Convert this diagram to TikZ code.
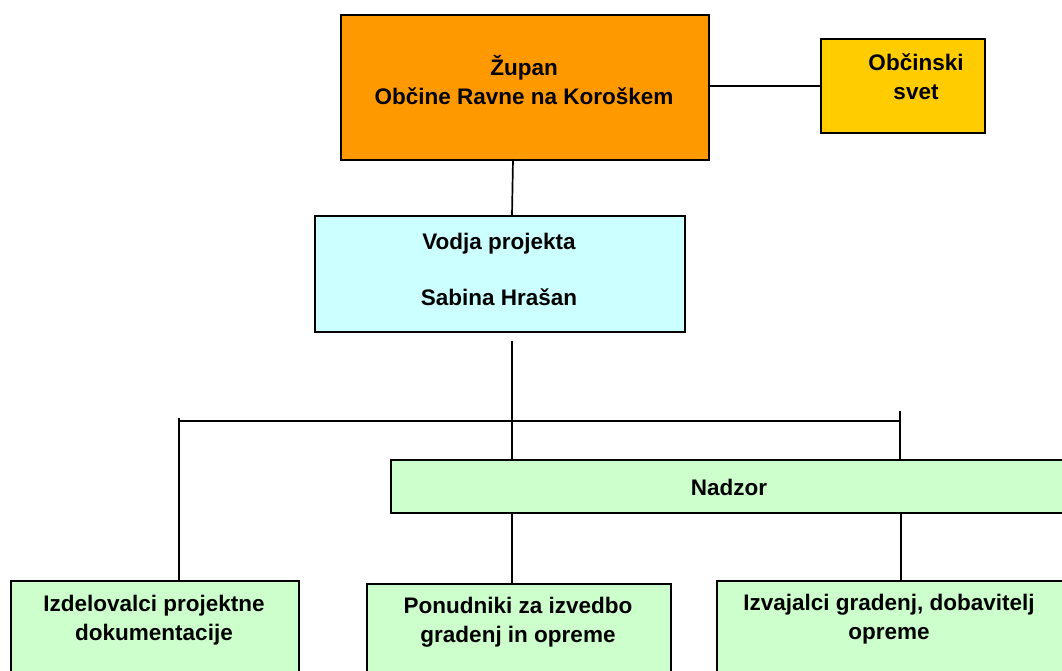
\documentclass[tikz,border=0pt]{standalone}
\usepackage{fontspec}
\setmainfont{Liberation Sans}
\begin{document}
\begin{tikzpicture}[x=1pt,y=-1pt,
  box/.style={draw=black,line width=1.8pt,inner sep=0pt,anchor=north west},
  txt/.style={font=\bfseries\fontsize{22.5}{29}\selectfont,align=center,inner sep=0pt},
  conn/.style={line width=1.7pt}]
\useasboundingbox (0,0) rectangle (1062,670);
\clip (0,0) rectangle (1062,670);
% boxes
\node[box,fill={rgb,255:red,255;green,153;blue,0},minimum width=368pt,minimum height=145pt] (zupan) at (340,14) {};
\node[box,fill={rgb,255:red,255;green,204;blue,0},minimum width=164pt,minimum height=94pt] (svet) at (820,38) {};
\node[box,fill={rgb,255:red,204;green,255;blue,255},minimum width=370pt,minimum height=116pt] (vodja) at (314,215) {};
\node[box,fill={rgb,255:red,204;green,255;blue,204},minimum width=690pt,minimum height=53pt] (nadzor) at (390,459) {};
\node[box,fill={rgb,255:red,204;green,255;blue,204},minimum width=288pt,minimum height=110pt] (izdel) at (10,580) {};
\node[box,fill={rgb,255:red,204;green,255;blue,204},minimum width=304pt,minimum height=110pt] (ponud) at (366,583) {};
\node[box,fill={rgb,255:red,204;green,255;blue,204},minimum width=360pt,minimum height=110pt] (izvaj) at (716,580) {};
% texts
\node[txt] (zupant) at (524,80.5) {Župan\\Občine Ravne na Koroškem};
\node[txt] (svett) at (916,77) {Občinski\\svet};
\node[txt] (vodjat) at (499,269) {Vodja projekta\\[27pt]Sabina Hrašan};
\node[txt] (nadzort) at (729,487) {Nadzor};
\node[txt] (izdelt) at (154,620) {Izdelovalci projektne\\dokumentacije};
\node[txt] (ponudt) at (518,622.5) {Ponudniki za izvedbo\\gradenj in opreme};
\node[txt] (izvajt) at (889,619) {Izvajalci gradenj, dobavitelj\\opreme};
% connector points
\coordinate (zb) at (513,159);
\coordinate (vt) at (512,215);
\coordinate (vb) at (512,341);
\coordinate (hl) at (179,421);
\coordinate (hltop) at (179,418);
\coordinate (hr) at (900,421);
\coordinate (hrtop) at (900,411);
\coordinate (nb1) at (512,512);
\coordinate (nb2) at (901,512);
% connectors
\draw[conn] (zupan.east |- svet.west) -- (svet.west);
\draw[conn] (zb) -- (vt);
\draw[conn] (vb) -- (vb |- nadzor.north);
\draw[conn] (hl) -- (hr);
\draw[conn] (hltop) -- (hltop |- izdel.north);
\draw[conn] (hrtop) -- (hrtop |- nadzor.north);
\draw[conn] (nb1) -- (nb1 |- ponud.north);
\draw[conn] (nb2) -- (nb2 |- izvaj.north);
\end{tikzpicture}
\end{document}
